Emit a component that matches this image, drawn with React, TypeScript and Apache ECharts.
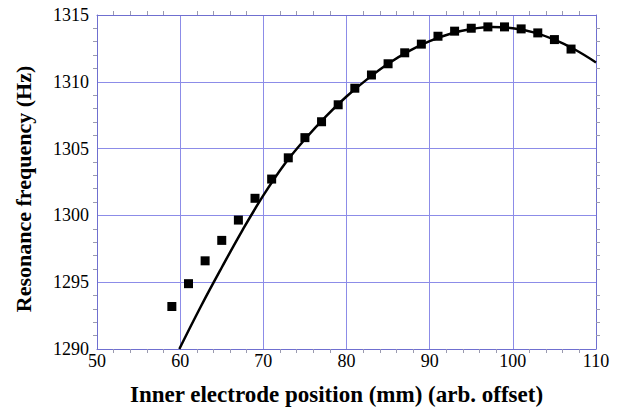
import React, { useEffect, useRef } from "react";
import * as echarts from "echarts";

const positions = [59, 61, 63, 65, 67, 69, 71, 73, 75, 77, 79, 81, 83, 85, 87, 89, 91, 93, 95, 97, 99, 101, 103, 105, 107];
const frequencies = [1293.18, 1294.89, 1296.6, 1298.13, 1299.65, 1301.28, 1302.72, 1304.31, 1305.82, 1307.01, 1308.28, 1309.52, 1310.51, 1311.35, 1312.17, 1312.82, 1313.41, 1313.79, 1314.01, 1314.11, 1314.11, 1313.96, 1313.66, 1313.16, 1312.45];

const fitX = [59.9, 62.5, 65, 67.5, 70, 72.5, 75, 77.5, 80, 82.5, 85, 87.5, 90, 92.5, 95, 97.5, 100, 102.5, 105, 107.5, 110];
const fitY = [1290.0, 1293.2, 1296.1, 1298.9, 1301.5, 1303.8, 1305.7, 1307.4, 1308.9, 1310.2, 1311.35, 1312.3, 1313.05, 1313.6, 1313.95, 1314.1, 1314.0, 1313.7, 1313.15, 1312.4, 1311.45];

const xTitle = "Inner electrode position (mm) (arb. offset)";
const yTitle = "Resonance frequency (Hz)";

const FONT = "serif";
const AXIS_COLOR = "#6f6fd0";
const GRID_COLOR = "#8c8ce8";
const MINOR_COLOR = "#9a9ab0";

export default function App() {
  const ref = useRef<HTMLDivElement>(null);
  useEffect(() => {
    const chart = echarts.init(ref.current!, undefined, { renderer: "svg" });
    const common = {
      type: "value" as const,
      axisLine: { show: true, onZero: false, lineStyle: { color: AXIS_COLOR, width: 1 } },
      axisTick: { show: false },
      minorTick: { show: true, splitNumber: 5, inside: true, length: 4, lineStyle: { color: MINOR_COLOR, width: 1 } },
      minorSplitLine: { show: false },
    };
    const fmt = (v: number) => String(v);
    chart.setOption({
      animation: false,
      textStyle: { fontFamily: FONT },
      grid: { left: 97, right: 30, top: 15, bottom: 60, containLabel: false },
      xAxis: [
        {
          ...common,
          min: 50, max: 110, interval: 10,
          position: "bottom",
          name: xTitle,
          nameLocation: "middle",
          nameGap: 34,
          nameTextStyle: { fontFamily: FONT, fontWeight: "bold", fontSize: 23, color: "#000", padding: [0, 20, 0, 0] },
          axisLabel: { fontFamily: FONT, fontSize: 18, color: "#000", margin: 3, formatter: fmt },
          splitLine: { show: true, lineStyle: { color: GRID_COLOR, width: 1 } },
        },
        {
          ...common,
          min: 50, max: 110, interval: 10,
          position: "top",
          axisLabel: { show: false },
          splitLine: { show: false },
        },
      ],
      yAxis: [
        {
          ...common,
          min: 1290, max: 1315, interval: 5,
          position: "left",
          name: yTitle,
          nameLocation: "middle",
          nameGap: 63,
          nameRotate: 90,
          nameTextStyle: { fontFamily: FONT, fontWeight: "bold", fontSize: 22, color: "#000", padding: [0, 14, 0, 0] },
          axisLabel: { fontFamily: FONT, fontSize: 18, color: "#000", margin: 8, formatter: fmt },
          splitLine: { show: true, lineStyle: { color: GRID_COLOR, width: 1 } },
        },
        {
          ...common,
          min: 1290, max: 1315, interval: 5,
          position: "right",
          axisLabel: { show: false },
          splitLine: { show: false },
        },
      ],
      series: [
        {
          type: "line",
          data: fitX.map((x, i) => [x, fitY[i]]),
          smooth: 0.4,
          showSymbol: false,
          lineStyle: { color: "#000", width: 2.5 },
          z: 2,
        },
        {
          type: "scatter",
          data: positions.map((x, i) => [x, frequencies[i]]),
          symbol: "rect",
          symbolSize: 9,
          itemStyle: { color: "#000", opacity: 1 },
          z: 3,
        },
      ],
    });
    return () => chart.dispose();
  }, []);
  return <div ref={ref} style={{ position: "absolute", left: 0, top: 0, width: 626, height: 411 }} />;
}
